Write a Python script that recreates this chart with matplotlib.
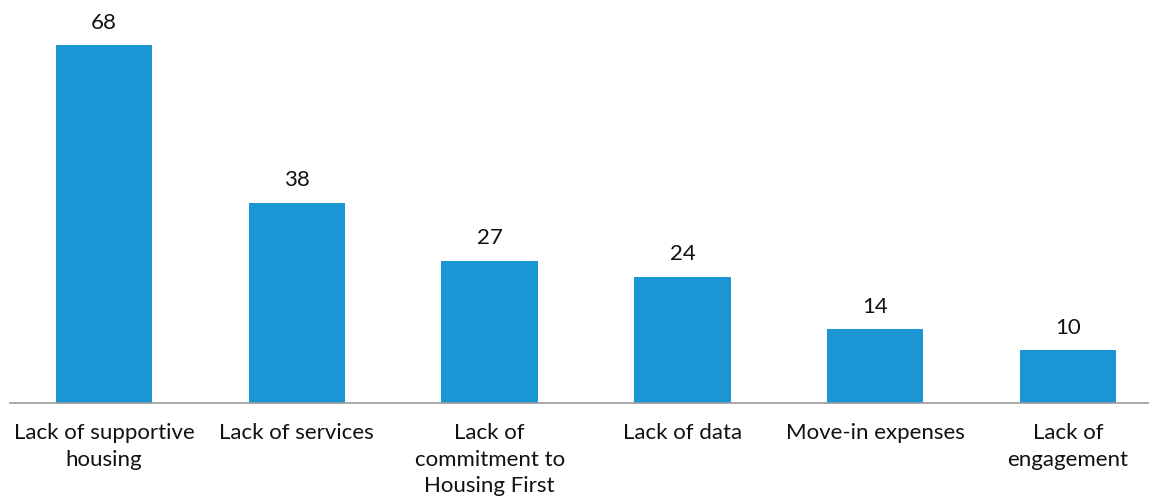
import matplotlib
matplotlib.use("Agg")
import matplotlib.pyplot as plt

categories = ["Lack of supportive\nhousing", "Lack of services", "Lack of\ncommitment to\nHousing First",
              "Lack of data", "Move-in expenses", "Lack of\nengagement"]
values = [68, 38, 27, 24, 14, 10]

plt.rcParams['font.family'] = ['Lato', 'DejaVu Sans']

fig = plt.figure(figsize=(11.58, 5.02), dpi=100)
ax = fig.add_axes([10 / 1158, 98 / 502, 1138 / 1158, 404 / 502])

x = range(len(values))
bars = ax.bar(x, values, width=0.5, color='#1a96d4')

for xi, v in zip(x, values):
    ax.text(xi, v + 2.6, str(v), ha='center', va='bottom', fontsize=16, color='#111111')

ax.set_xlim(-0.4876, 5.415)
ax.set_ylim(0, 76.8)
ax.set_xticks(list(x))
ax.set_xticklabels(categories, fontsize=16, color='#111111', linespacing=1.4)
ax.tick_params(axis='x', length=0, pad=14)
ax.set_yticks([])

for s in ['top', 'right', 'left']:
    ax.spines[s].set_visible(False)
ax.spines['bottom'].set_color('#999999')
ax.spines['bottom'].set_linewidth(1.2)

fig.savefig("out.png", dpi=100)
